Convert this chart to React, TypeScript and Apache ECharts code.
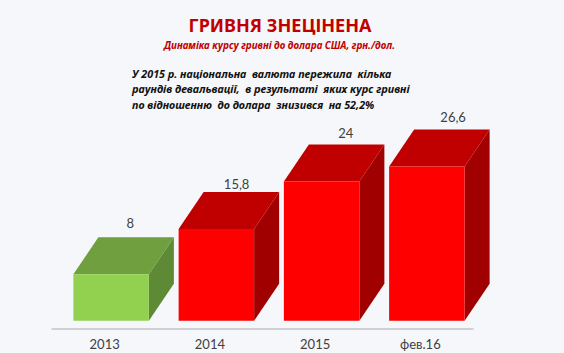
import React, { useEffect, useRef } from "react";
import * as echarts from "echarts";

const categories = ["2013", "2014", "2015", "фев.16"];
const values = [8, 15.8, 24, 26.6];
const valueLabels = ["8", "15,8", "24", "26,6"];
const highlightIndex = 0;
const titleText = "ГРИВНЯ ЗНЕЦІНЕНА";
const subtitleText = "Динаміка курсу гривні до долара США, грн./дол.";
const noteLines = [
  "У 2015 р. національна  валюта пережила  кілька",
  "раундів девальвації,  в результаті  яких курс гривні",
  "по відношенню  до долара  знизився  на 52,2%",
];

const FONT = 'Lato, "Noto Sans", sans-serif';
const DEPTH_X = 25;
const DEPTH_Y = 37;
const SHIFT_X = 6.5;
const SHIFT_Y = -8.3;
const BAR_W = 75.5;
const LABEL_NUDGE_X = [57, 58, 62, 64];
const LABEL_NUDGE_Y = [14, 8, 12, 12];

const green = { face: "#92d050", top: "#6f9f3e", side: "#5f8a35" };
const red = { face: "#ff0000", top: "#c00000", side: "#a00000" };

function renderItem(params: any, api: any) {
  const idx = api.value(0);
  const p = api.coord([idx, api.value(1)]);
  const b = api.coord([idx, 0]);
  const c = idx === highlightIndex ? green : red;
  const x0 = p[0] - BAR_W / 2 + SHIFT_X;
  const x1 = x0 + BAR_W;
  const yt = p[1] + SHIFT_Y;
  const yb = b[1] + SHIFT_Y;
  return {
    type: "group",
    children: [
      {
        type: "polygon",
        shape: { points: [[x1, yt], [x1 + DEPTH_X, yt - DEPTH_Y], [x1 + DEPTH_X, yb - DEPTH_Y], [x1, yb]] },
        style: { fill: c.side },
      },
      {
        type: "polygon",
        shape: { points: [[x0, yt], [x0 + DEPTH_X, yt - DEPTH_Y], [x1 + DEPTH_X, yt - DEPTH_Y], [x1, yt]] },
        style: { fill: c.top },
      },
      { type: "rect", shape: { x: x0, y: yt, width: BAR_W, height: yb - yt }, style: { fill: c.face } },
      {
        type: "text",
        x: x0 + LABEL_NUDGE_X[idx],
        y: yt - DEPTH_Y - LABEL_NUDGE_Y[idx],
        style: {
          text: valueLabels[idx],
          fill: "#404040",
          font: `13px ${FONT}`,
          textAlign: "center",
          textVerticalAlign: "middle",
        },
      },
    ],
  };
}

export default function App() {
  const ref = useRef<HTMLDivElement>(null);
  useEffect(() => {
    document.body.style.margin = "0";
    const chart = echarts.init(ref.current!, null, { renderer: "svg" });
    chart.setOption({
      animation: false,
      backgroundColor: "#f6f7fa",
      grid: { left: 52, right: 91, top: 39, bottom: 24 },
      xAxis: {
        type: "category",
        data: categories,
        axisLine: { lineStyle: { color: "#c4c4c8", width: 1.5 } },
        axisTick: { show: false },
        axisLabel: { color: "#404040", fontFamily: FONT, fontSize: 13, margin: 8 },
      },
      yAxis: { type: "value", min: 0, max: 50, show: false, splitLine: { show: false } },
      series: [
        {
          type: "custom",
          renderItem,
          clip: false,
          data: values.map((v, i) => [i, v]),
          encode: { x: 0, y: 1 },
        },
      ],
      graphic: [
        {
          type: "text",
          x: 280,
          y: 25,
          style: {
            text: titleText,
            fill: "#c00000",
            font: `bold 18px "Noto Sans", sans-serif`,
            textAlign: "center",
            textVerticalAlign: "middle",
          },
        },
        {
          type: "text",
          x: 279.5,
          y: 45,
          style: {
            text: subtitleText,
            fill: "#c00000",
            font: `italic bold 9.8px "Noto Sans", sans-serif`,
            textAlign: "center",
            textVerticalAlign: "middle",
          },
        },
        ...noteLines.map((line, i) => ({
          type: "text",
          x: 132,
          y: 73 + i * 15.7,
          style: {
            text: line,
            fill: "#111111",
            font: `italic bold 10.8px "Noto Sans", sans-serif`,
            textAlign: "left",
            textVerticalAlign: "middle",
          },
        })),
      ],
    });
    return () => chart.dispose();
  }, []);
  return <div ref={ref} style={{ width: 564, height: 353 }} />;
}
